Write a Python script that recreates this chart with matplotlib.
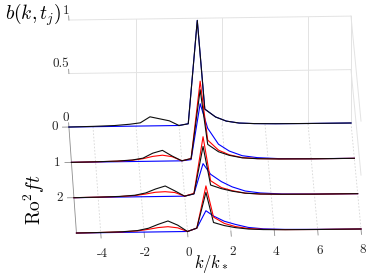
import numpy as np
import matplotlib
matplotlib.use("Agg")
import matplotlib.pyplot as plt

plt.rcParams["mathtext.fontset"] = "cm"

# ---------------- data ----------------
k = [-5.12, -4.0, -3.0, -2.3, -1.8, -1.35, -0.9, -0.45, 0.0, 0.43, 0.85,
     1.2, 1.7, 2.2, 2.8, 3.5, 4.5, 6.0, 8.0]
t_levels = [0, 1, 2, 3]

black0 = [0, .003, .008, .018, .03, .085, .065, .045, 0, .015, .98, .15, .075, .035, .015, .008, .004, .002, .001]
black1 = [0, .002, .006, .014, .03, .075, .10, .046, 0, .02, .66, .15, .08, .045, .02, .01, .005, .002, .001]
black2 = [0, .002, .006, .015, .035, .07, .097, .05, 0, .02, .46, .10, .065, .04, .02, .01, .005, .002, .001]
black3 = [0, .002, .006, .015, .035, .07, .10, .06, 0, .03, .36, .08, .05, .03, .015, .008, .004, .002, .001]

red1 = [0, .002, .005, .012, .025, .045, .055, .04, 0, .02, .74, .19, .095, .05, .022, .011, .005, .002, .001]
red2 = [0, .002, .005, .012, .025, .04, .044, .035, 0, .025, .55, .14, .075, .045, .02, .01, .005, .002, .001]
red3 = [0, .002, .005, .012, .025, .04, .047, .035, 0, .03, .42, .13, .07, .04, .02, .01, .005, .002, .001]

blue0 = [0, 0, 0, 0, 0, 0, 0, 0, 0, .015, .98, .15, .075, .035, .015, .008, .004, .002, .001]
blue1 = [0, 0, 0, 0, 0, 0, 0, 0, 0, .01, .53, .30, .15, .085, .04, .02, .008, .003, .001]
blue2 = [0, 0, 0, 0, 0, 0, 0, 0, 0, .02, .30, .20, .13, .08, .04, .02, .008, .003, .001]
blue3 = [0, 0, 0, 0, 0, 0, 0, 0, 0, .03, .19, .14, .09, .06, .03, .015, .007, .003, .001]

black_series = [black0, black1, black2, black3]
red_series = [None, red1, red2, red3]
blue_series = [blue0, blue1, blue2, blue3]

x_ticks = [-4, -2, 0, 2, 4, 6, 8]
x_tick_labels = ["-4", "-2", "0", "2", "4", "6", "8"]
y_ticks = [0, 1, 2]
y_tick_labels = ["0", "1", "2"]
z_ticks = [0, 0.5, 1]
z_tick_labels = ["0", "0.5", "1"]
wall_grid_k = [-2, 2, 6, 8]

# ---------------- projection (simple 3D view) ----------------
W, H, DPI = 374, 275, 100
PXK, PXB = 21.5, 107.0
XK0, YB0 = 179.0, 149.5
DX, DY, TILT, EPS = 2.83, -35.33, 0.3, 0.00295
KMIN, KMAX, TMAX = k[0], k[-1], 3.0


def proj(kk, tt, bb):
    kk, tt, bb = np.broadcast_arrays(np.asarray(kk, float), np.asarray(tt, float),
                                     np.asarray(bb, float))
    s = 1 + EPS * tt
    X = kk * s + DX * tt / PXK
    Y = bb * s + TILT * kk / PXB + DY * tt / PXB
    return X, Y


fig = plt.figure(figsize=(W / DPI, H / DPI), dpi=DPI)
ax = fig.add_axes([0, 0, 1, 1])
ax.set_axis_off()
ax.set_xlim(-XK0 / PXK, (W - XK0) / PXK)
ax.set_ylim(-YB0 / PXB, (H - YB0) / PXB)

grid_c = (0.89, 0.89, 0.89)
axis_c = (0.55, 0.55, 0.55)

# back wall grid
for bz in z_ticks[1:]:
    ax.plot(*proj([KMIN, KMAX], 0, bz), color=grid_c, lw=0.7)
for kk in wall_grid_k:
    ax.plot(*proj(kk, 0, [0, 1]), color=grid_c, lw=0.7)
# right wall
for bz in z_ticks[1:]:
    ax.plot(*proj(KMAX, [0, TMAX], bz), color=grid_c, lw=0.7)
# floor grid + x ticks
for kk in x_ticks:
    ax.plot(*proj(kk, [0, TMAX], 0), color=(0.84, 0.84, 0.84), lw=0.6,
            ls=(0, (2, 2)))
    ax.plot(*proj(kk, [TMAX, TMAX + 0.15], 0), color=axis_c, lw=0.6)
# left axis line + y ticks
ax.plot(*proj(KMIN, [0, TMAX], 0), color=axis_c, lw=0.6)
for tt in y_ticks:
    ax.plot(*proj([KMIN - 0.3, KMIN], tt, 0), color=axis_c, lw=0.6)
# z ticks
for bz in z_ticks:
    ax.plot(*proj(KMIN, [0, -0.12], bz), color=axis_c, lw=0.6)

# curves
for tt, bl, rd, bu in zip(t_levels, black_series, red_series, blue_series):
    ax.plot(*proj(k, tt, bu), color=(0, 0, 1), lw=0.8)
    if rd is not None:
        ax.plot(*proj(k, tt, rd), color=(1, 0, 0), lw=0.8)
    ax.plot(*proj(k, tt, bl), color=(0.05, 0.05, 0.05), lw=0.8)

# tick labels
tfont = dict(family="cmr10", size=9.5, color=(0.15, 0.15, 0.15))
for kk, lab in zip(x_ticks, x_tick_labels):
    ax.text(*proj(kk, TMAX + 0.6, 0), lab, ha="center", va="center", **tfont)
for tt, lab in zip(y_ticks, y_tick_labels):
    ax.text(*proj(KMIN - 0.5, tt, 0), lab, ha="right", va="center", **tfont)
for bz, lab in zip(z_ticks, z_tick_labels):
    ax.text(*proj(KMIN + 0.05, -0.27, bz), lab, ha="right", va="center", **tfont)

# axis labels
fig.text(33 / W, 1 - 15 / H, r"$b(k,t_j)$", ha="center", va="center", fontsize=14)
fig.text(34 / W, 1 - 200 / H, r"$\mathrm{Ro}^2ft$", ha="center", va="center",
         rotation=90, fontsize=14)
fig.text(211 / W, 1 - 264 / H, r"$k/k_*$", ha="center", va="center", fontsize=12)

fig.savefig("out.png", dpi=DPI)
